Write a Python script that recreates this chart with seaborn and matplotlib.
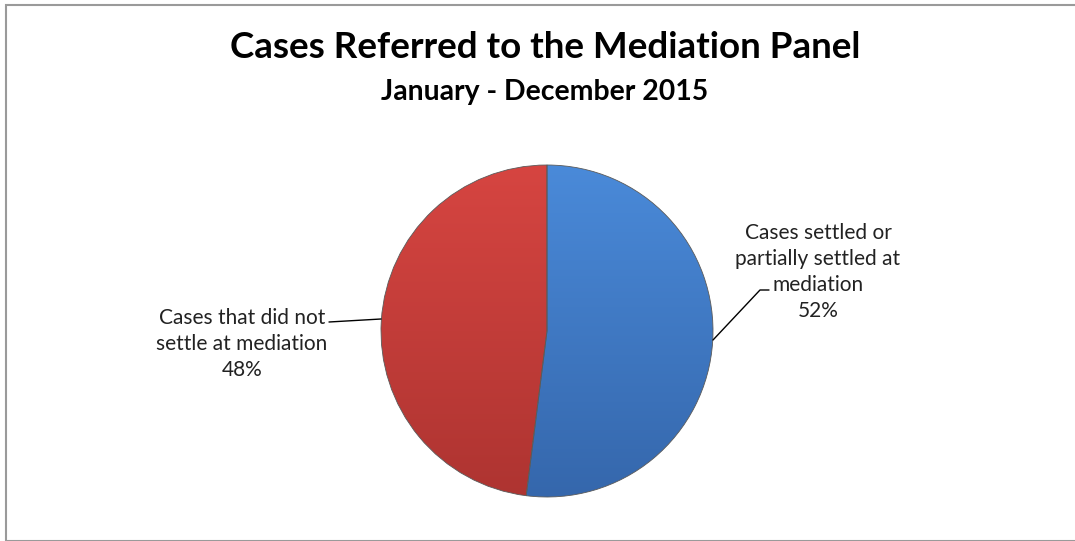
import numpy as np
import matplotlib
matplotlib.use("Agg")
import matplotlib.pyplot as plt
from matplotlib.patches import Rectangle
import seaborn as sns

# data
labels = ["Cases settled or\npartially settled at\nmediation", "Cases that did not\nsettle at mediation"]
shares = [52, 48]
top_colors = ["#4A8AD9", "#D64541"]
bottom_colors = ["#3567AC", "#AE3431"]

sns.set_theme(style="white")
plt.rcParams["font.family"] = ["Lato", "DejaVu Sans"]

W, H = 1075, 541
fig = plt.figure(figsize=(W / 100, H / 100), dpi=100)

# outer frame
fig.patches.append(Rectangle((6 / W, 0), 1, 1 - 5 / H, transform=fig.transFigure,
                             fill=False, edgecolor="#9a9a9a", linewidth=1.5))

fig.text(545 / W, 1 - 48 / H, "Cases Referred to the Mediation Panel",
         ha="center", va="center", fontsize=26.5, fontweight="bold", color="black")
fig.text(545 / W, 1 - 92 / H, "January - December 2015",
         ha="center", va="center", fontsize=20.4, fontweight="bold", color="black")

cx, cy, r = 547, 331, 166
ax = fig.add_axes([(cx - r) / W, 1 - (cy + r) / H, 2 * r / W, 2 * r / H])
wedges, _ = ax.pie(shares, startangle=90, counterclock=False, radius=1,
                   colors=top_colors,
                   wedgeprops=dict(edgecolor="#5a5a5a", linewidth=0.6))
ax.set_xlim(-1, 1)
ax.set_ylim(-1, 1)
ax.set_aspect("equal")
ax.axis("off")

# vertical shading on each slice (lighter at the top)
for w, c0, c1 in zip(wedges, top_colors, bottom_colors):
    grad = np.linspace(0, 1, 256)[:, None]
    cmap = matplotlib.colors.LinearSegmentedColormap.from_list("g", [c0, c1])
    im = ax.imshow(grad, extent=(-1, 1, -1, 1), origin="upper", cmap=cmap,
                   aspect="auto", zorder=1)
    im.set_clip_path(w)
    w.set_facecolor("none")
    w.set_zorder(2)

# labels with leader lines (figure pixel coords)
def px(x, y):
    return x / W, 1 - y / H

fig.text(*px(818, 272), labels[0] + f"\n{shares[0]}%", ha="center", va="center",
         fontsize=15, linespacing=1.38, color="#222222")
fig.text(*px(242, 344), labels[1] + f"\n{shares[1]}%", ha="center", va="center",
         fontsize=15, linespacing=1.38, color="#222222")

fig.add_artist(plt.Line2D([713 / W, 760 / W, 769 / W],
                          [1 - 340 / H, 1 - 290 / H, 1 - 290 / H],
                          color="black", linewidth=1, transform=fig.transFigure))
fig.add_artist(plt.Line2D([329 / W, 381 / W],
                          [1 - 322 / H, 1 - 319 / H],
                          color="black", linewidth=1, transform=fig.transFigure))

fig.savefig("out.png", dpi=100)
